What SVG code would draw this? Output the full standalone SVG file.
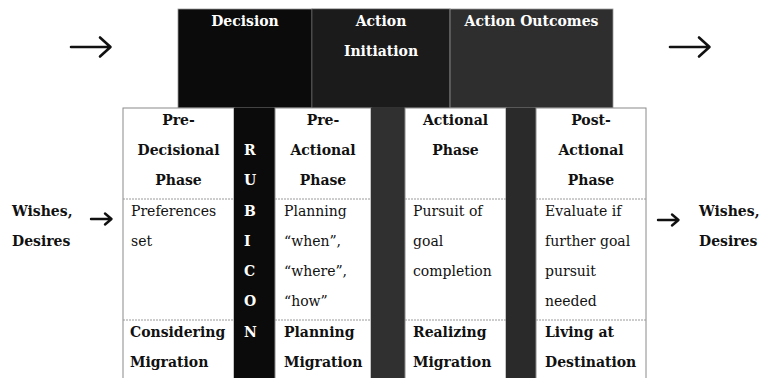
<svg xmlns="http://www.w3.org/2000/svg" width="761" height="378" viewBox="0 0 761 378">
<defs>
<style>
text{font-family:"DejaVu Serif","Liberation Serif",serif;font-size:14px;fill:#111}
.b{font-weight:bold}
.w{fill:#fff;font-weight:bold}
.c{text-anchor:middle}
.cell{fill:#fff;stroke:#8a8a8a;stroke-width:1}
.dash{stroke:#9a9a9a;stroke-width:1;stroke-dasharray:2 1;fill:none}
.arr{stroke:#111;fill:none;stroke-linecap:round;stroke-linejoin:round}
</style>
</defs>
<rect width="761" height="378" fill="#fff"/>

<g id="top-decision">
<rect x="178" y="9" width="134" height="99" fill="#0b0b0b" stroke="#9a9a9a" stroke-width="0.8"/>
<text class="w c" x="245" y="26">Decision</text>
</g>
<g id="top-initiation">
<rect x="312" y="9" width="138" height="99" fill="#1b1b1b" stroke="#555" stroke-width="0.8"/>
<text class="w c" x="381" y="26">Action</text>
<text class="w c" x="381" y="56">Initiation</text>
</g>
<g id="top-outcomes">
<rect x="450" y="9" width="163" height="99" fill="#2e2e2e" stroke="#9a9a9a" stroke-width="0.8"/>
<text class="w c" x="531.5" y="26">Action Outcomes</text>
</g>

<g id="col-predecisional">
<rect class="cell" x="123" y="108" width="111" height="275"/>
<line class="dash" x1="123" y1="199" x2="234" y2="199"/>
<line class="dash" x1="123" y1="320" x2="234" y2="320"/>
<text class="b c" x="178.5" y="125">Pre-</text>
<text class="b c" x="178.5" y="155">Decisional</text>
<text class="b c" x="178.5" y="185">Phase</text>
<text x="131" y="216">Preferences</text>
<text x="131" y="246">set</text>
<text class="b" x="130" y="337">Considering</text>
<text class="b" x="130" y="367">Migration</text>
</g>

<g id="rubicon">
<rect x="234" y="108" width="41" height="275" fill="#0b0b0b"/>
<text class="w" x="244" y="155">R</text>
<text class="w" x="244" y="185">U</text>
<text class="w" x="244" y="216">B</text>
<text class="w" x="244" y="246">I</text>
<text class="w" x="244" y="276">C</text>
<text class="w" x="244" y="306">O</text>
<text class="w" x="244" y="337">N</text>
</g>

<g id="col-preactional">
<rect class="cell" x="275" y="108" width="96" height="275"/>
<line class="dash" x1="275" y1="199" x2="371" y2="199"/>
<line class="dash" x1="275" y1="320" x2="371" y2="320"/>
<text class="b c" x="323" y="125">Pre-</text>
<text class="b c" x="323" y="155">Actional</text>
<text class="b c" x="323" y="185">Phase</text>
<text x="284" y="216">Planning</text>
<text x="284" y="246">“when”,</text>
<text x="284" y="276">“where”,</text>
<text x="284" y="306">“how”</text>
<text class="b" x="284" y="337">Planning</text>
<text class="b" x="284" y="367">Migration</text>
</g>

<g id="strip-1">
<rect x="371" y="108" width="34" height="275" fill="#303030"/>
</g>

<g id="col-actional">
<rect class="cell" x="405" y="108" width="101" height="275"/>
<line class="dash" x1="405" y1="199" x2="506" y2="199"/>
<line class="dash" x1="405" y1="320" x2="506" y2="320"/>
<text class="b c" x="455.5" y="125">Actional</text>
<text class="b c" x="455.5" y="155">Phase</text>
<text x="413" y="216">Pursuit of</text>
<text x="413" y="246">goal</text>
<text x="413" y="276">completion</text>
<text class="b" x="413" y="337">Realizing</text>
<text class="b" x="413" y="367">Migration</text>
</g>

<g id="strip-2">
<rect x="506" y="108" width="30" height="275" fill="#2a2a2a"/>
</g>

<g id="col-postactional">
<rect class="cell" x="536" y="108" width="110" height="275"/>
<line class="dash" x1="536" y1="199" x2="646" y2="199"/>
<line class="dash" x1="536" y1="320" x2="646" y2="320"/>
<text class="b c" x="591" y="125">Post-</text>
<text class="b c" x="591" y="155">Actional</text>
<text class="b c" x="591" y="185">Phase</text>
<text x="545" y="216">Evaluate if</text>
<text x="545" y="246">further goal</text>
<text x="545" y="276">pursuit</text>
<text x="545" y="306">needed</text>
<text class="b" x="545" y="337">Living at</text>
<text class="b" x="545" y="367">Destination</text>
</g>

<g id="label-left">
<text class="b" x="12" y="216">Wishes,</text>
<text class="b" x="12" y="246">Desires</text>
</g>
<g id="label-right">
<text class="b" x="699" y="216">Wishes,</text>
<text class="b" x="699" y="246">Desires</text>
</g>

<g id="connectors">
<path class="arr" stroke-width="2.6" d="M71 47 H110 M100 37.5 L110.5 47 L100 56.5"/>
<path class="arr" stroke-width="2.6" d="M670 47 H709 M699 37.5 L709.5 47 L699 56.5"/>
<path class="arr" stroke-width="2.4" d="M91 219 H111 M105 213.5 L111.5 219 L105 224.5"/>
<path class="arr" stroke-width="2.4" d="M658 220 H678 M672 214.5 L678.5 220 L672 225.5"/>
</g>
</svg>
